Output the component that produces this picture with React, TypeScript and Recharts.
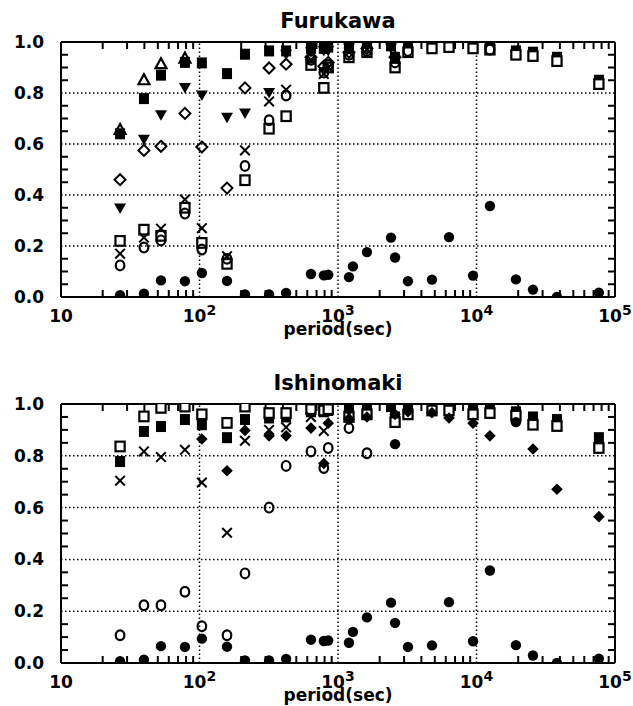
import { ScatterChart, Scatter, XAxis, YAxis, ReferenceLine } from 'recharts'

// periods (sec) at which the ratios were evaluated
const PERIODS = [
  26.7, 39.7, 52.7, 78.5, 104, 158, 213, 318, 422, 638, 790, 850, 1200,
  1282, 1618, 2414, 2582, 3200, 4770, 6330, 9440, 12500, 19260, 25570, 38100, 76500,
]

// shared by both stations
const FILLED_CIRCLE = [
  0.007, 0.013, 0.065, 0.062, 0.094, 0.063, 0.01, 0.01, 0.016, 0.09, 0.085, 0.087, 0.078,
  0.12, 0.176, 0.233, 0.155, 0.062, 0.068, 0.235, 0.084, 0.357, 0.069, 0.029, 0.0, 0.017,
]

// Furukawa
const F_FILLED_SQUARE = [
  0.64, 0.778, 0.87, 0.92, 0.918, 0.876, 0.952, 0.965, 0.965, 0.975, 0.975, 0.98, 0.99,
  null, 0.99, 0.985, 0.94, 0.985, 0.985, 0.985, 0.98, 0.98, 0.965, 0.96, 0.94, 0.85,
]
const F_OPEN_SQUARE = [
  0.22, 0.264, 0.24, 0.35, 0.212, 0.13, 0.458, 0.66, 0.709, 0.91, 0.82, 0.9, 0.94,
  null, 0.96, null, 0.9, 0.96, 0.975, 0.98, 0.975, 0.97, 0.95, 0.945, 0.925, 0.835,
]
const F_OPEN_CIRCLE = [
  0.124, 0.194, 0.222, 0.327, 0.186, 0.15, 0.514, 0.693, 0.79, 0.93, 0.88, 0.91, 0.95,
  null, 0.965, null, 0.92, 0.965, null, null, null, 0.97, null, null, null, null,
]
const F_CROSS = [
  0.17, 0.233, 0.268, 0.382, 0.27, 0.16, 0.575, 0.767, 0.813, 0.93, 0.875, 0.9, 0.96,
  null, 0.97, null, 0.93, null, null, null, null, null, null, null, null, null,
]
const F_TRIANGLE_DOWN = [
  0.347, 0.617, 0.713, 0.82, 0.79, 0.703, 0.72, 0.8, 0.95, 0.96, 0.965, 0.965, 0.975,
  null, 0.98, 0.975, null, null, null, null, null, null, null, null, null, null,
]
const F_TRIANGLE_UP = [
  0.655, 0.85, 0.913, 0.935, null, null, null, null, null, null, null, null, null,
  null, null, null, null, null, null, null, null, null, null, null, null, null,
]
const F_OPEN_DIAMOND = [
  0.46, 0.575, 0.591, 0.72, 0.588, 0.427, 0.82, 0.898, 0.913, 0.94, 0.905, 0.92, 0.96,
  null, 0.975, null, 0.94, null, null, null, null, null, null, null, null, null,
]

// Ishinomaki
const I_FILLED_SQUARE = [
  0.778, 0.894, 0.913, 0.94, 0.92, 0.87, 0.94, 0.946, 0.95, 0.97, 0.97, 0.975, 0.98,
  null, 0.985, 0.99, 0.95, 0.98, 0.985, 0.985, 0.975, 0.98, 0.97, 0.95, 0.94, 0.87,
]
const I_OPEN_SQUARE = [
  0.836, 0.952, 0.985, 0.99, 0.96, 0.927, 0.99, 0.965, 0.965, 0.98, 0.975, 0.98, 0.95,
  null, 0.96, null, 0.93, 0.96, 0.975, 0.975, 0.96, 0.965, 0.955, 0.92, 0.915, 0.83,
]
const I_OPEN_CIRCLE = [
  0.107, 0.223, 0.223, 0.275, 0.142, 0.107, 0.346, 0.6, 0.761, 0.817, 0.753, 0.83, 0.907,
  null, 0.81, null, null, null, null, null, null, null, null, null, null, null,
]
const I_CROSS = [
  0.704, 0.817, 0.795, 0.823, 0.697, 0.503, 0.858, 0.9, 0.91, 0.95, 0.896, null, 0.96,
  null, null, null, null, null, null, null, null, null, null, null, null, null,
]
const I_FILLED_DIAMOND = [
  null, null, null, null, 0.865, 0.742, 0.898, 0.877, 0.877, 0.907, 0.77, 0.926, 0.94,
  null, 0.95, null, 0.96, 0.97, 0.966, 0.946, 0.926, 0.877, null, 0.826, 0.671, 0.565,
]
const I_FILLED_CIRCLE_UPPER = [
  null, null, null, null, null, null, null, null, null, null, null, null, null,
  null, null, null, 0.845, null, null, null, null, null, 0.93, null, null, null,
]

const X_MAJOR = [10, 100, 1000, 10000, 100000]
const X_MINOR = [
  20, 30, 40, 50, 60, 70, 80, 90,
  200, 300, 400, 500, 600, 700, 800, 900,
  2000, 3000, 4000, 5000, 6000, 7000, 8000, 9000,
  20000, 30000, 40000, 50000, 60000, 70000, 80000, 90000,
]
const Y_MAJOR = [0, 0.2, 0.4, 0.6, 0.8, 1.0]
const Y_MINOR = [0.05, 0.1, 0.15, 0.25, 0.3, 0.35, 0.45, 0.5, 0.55, 0.65, 0.7, 0.75, 0.85, 0.9, 0.95]

type Kind = 'dot' | 'ring' | 'box' | 'block' | 'tri' | 'invtri' | 'diamond' | 'solidDiamond' | 'cross'

interface SeriesDef {
  kind: Kind
  values: (number | null)[]
}

// draw order: first entries end up underneath
const FURUKAWA: SeriesDef[] = [
  { kind: 'block', values: F_FILLED_SQUARE },
  { kind: 'box', values: F_OPEN_SQUARE },
  { kind: 'ring', values: F_OPEN_CIRCLE },
  { kind: 'diamond', values: F_OPEN_DIAMOND },
  { kind: 'tri', values: F_TRIANGLE_UP },
  { kind: 'cross', values: F_CROSS },
  { kind: 'invtri', values: F_TRIANGLE_DOWN },
  { kind: 'dot', values: FILLED_CIRCLE },
]

const ISHINOMAKI: SeriesDef[] = [
  { kind: 'block', values: I_FILLED_SQUARE },
  { kind: 'box', values: I_OPEN_SQUARE },
  { kind: 'ring', values: I_OPEN_CIRCLE },
  { kind: 'cross', values: I_CROSS },
  { kind: 'solidDiamond', values: I_FILLED_DIAMOND },
  { kind: 'dot', values: I_FILLED_CIRCLE_UPPER },
  { kind: 'dot', values: FILLED_CIRCLE },
]

const INK = '#000'

function Marker({ kind, cx, cy }: { kind: Kind; cx: number; cy: number }) {
  switch (kind) {
    case 'dot':
      return <circle cx={cx} cy={cy} r={5.2} fill={INK} />
    case 'ring':
      return <ellipse cx={cx} cy={cy} rx={4.3} ry={4.9} fill="none" stroke={INK} strokeWidth={2.2} />
    case 'box':
      return <rect x={cx - 4.6} y={cy - 4.8} width={9.2} height={9.6} fill="#fff" stroke={INK} strokeWidth={2.2} />
    case 'block':
      return <rect x={cx - 5} y={cy - 5.5} width={10} height={11} fill={INK} />
    case 'tri':
      return (
        <polygon
          points={`${cx},${cy - 6} ${cx - 5.5},${cy + 4} ${cx + 5.5},${cy + 4}`}
          fill="none" stroke={INK} strokeWidth={2.2} strokeLinejoin="miter"
        />
      )
    case 'invtri':
      return <polygon points={`${cx - 6},${cy - 5} ${cx + 6},${cy - 5} ${cx},${cy + 5.5}`} fill={INK} />
    case 'diamond':
      return (
        <polygon
          points={`${cx},${cy - 5.5} ${cx + 5.5},${cy} ${cx},${cy + 5.5} ${cx - 5.5},${cy}`}
          fill="none" stroke={INK} strokeWidth={2}
        />
      )
    case 'solidDiamond':
      return <polygon points={`${cx},${cy - 5.8} ${cx + 5.8},${cy} ${cx},${cy + 5.8} ${cx - 5.8},${cy}`} fill={INK} />
    case 'cross':
      return (
        <g stroke={INK} strokeWidth={2}>
          <line x1={cx - 4.8} y1={cy - 4.8} x2={cx + 4.8} y2={cy + 4.8} />
          <line x1={cx - 4.8} y1={cy + 4.8} x2={cx + 4.8} y2={cy - 4.8} />
        </g>
      )
  }
  return null
}

// inward minor ticks, ~7px long: expressed in data units of each axis
const TICK_PX = 7
const DECADE_PX = 138.5
const X_TICK_FACTOR = Math.pow(10, TICK_PX / DECADE_PX)

// tickSize and tickMargin are 0, so x / y sit on the axis line itself
const BottomTick = ({ x, y, payload }: any) => {
  const exp = Math.round(Math.log10(payload.value))
  return (
    <text x={x} y={y + 25} textAnchor="middle" fontSize={17} fontWeight="bold" fill={INK}>
      10
      {exp > 1 && <tspan dy={-7} fontSize={14}>{exp}</tspan>}
    </text>
  )
}

const LeftTick = ({ x, y, payload }: any) => (
  <text x={x - 17} y={y} dy={6} textAnchor="end" fontSize={17} fontWeight="bold" fill={INK}>
    {payload.value.toFixed(1)}
  </text>
)

const frame = { stroke: INK, strokeWidth: 2 }
const dotted = { stroke: INK, strokeWidth: 1.5, strokeDasharray: '1.5 2.5' }
const tickStroke = { stroke: INK, strokeWidth: 2, ifOverflow: 'visible' as const }

function Panel({ title, series, top, plotHeight }: {
  title: string
  series: SeriesDef[]
  top: number
  plotHeight: number
}) {
  const height = 41 + 1 + plotHeight + 43
  const ty = TICK_PX / plotHeight
  return (
    <div style={{ position: 'absolute', left: 0, top }}>
      <ScatterChart width={633} height={height} margin={{ top: 41, right: 17, bottom: 0, left: 0 }}>
        {X_MAJOR.slice(1, -1).map((v) => (
          <ReferenceLine key={`gx${v}`} xAxisId="x" yAxisId="y" x={v} {...dotted} />
        ))}
        {Y_MAJOR.slice(1, -1).map((v) => (
          <ReferenceLine key={`gy${v}`} xAxisId="x" yAxisId="y" y={v} {...dotted} />
        ))}
        {X_MINOR.map((v) => (
          <ReferenceLine key={`tb${v}`} xAxisId="x" yAxisId="y" segment={[{ x: v, y: 0 }, { x: v, y: ty }]} {...tickStroke} />
        ))}
        {X_MINOR.map((v) => (
          <ReferenceLine key={`tt${v}`} xAxisId="x" yAxisId="y" segment={[{ x: v, y: 1 }, { x: v, y: 1 - ty }]} {...tickStroke} />
        ))}
        {Y_MINOR.map((v) => (
          <ReferenceLine key={`tl${v}`} xAxisId="x" yAxisId="y" segment={[{ x: 10, y: v }, { x: 10 * X_TICK_FACTOR, y: v }]} {...tickStroke} />
        ))}
        {Y_MINOR.map((v) => (
          <ReferenceLine key={`tr${v}`} xAxisId="x" yAxisId="y" segment={[{ x: 100000, y: v }, { x: 100000 / X_TICK_FACTOR, y: v }]} {...tickStroke} />
        ))}
        <XAxis
          xAxisId="x" dataKey="period" type="number" scale="log" domain={[10, 100000]}
          allowDataOverflow ticks={X_MAJOR} interval={0} tickSize={0} tickMargin={0}
          tickLine={false} axisLine={frame} tick={BottomTick} height={43}
          label={{ value: 'period(sec)', position: 'insideBottom', offset: 5, fontSize: 17, fontWeight: 'bold', fill: INK }}
        />
        <XAxis
          xAxisId="top" orientation="top" type="number" domain={[0, 1]} allowDataOverflow
          ticks={[]} tick={false} tickLine={false} axisLine={frame} height={1}
          label={{ value: title, position: 'top', offset: 13, fontSize: 21, fontWeight: 'bold', fill: INK }}
        />
        <YAxis
          yAxisId="y" dataKey="value" type="number" domain={[0, 1]} allowDataOverflow
          ticks={Y_MAJOR} interval={0} tickSize={0} tickMargin={0}
          tickLine={false} axisLine={frame} tick={LeftTick} width={61}
        />
        <YAxis
          yAxisId="right" orientation="right" type="number" domain={[0, 1]} allowDataOverflow
          ticks={[]} tick={false} tickLine={false} axisLine={frame} width={1}
        />
        {series.map((s, i) => (
          <Scatter
            key={i}
            xAxisId="x"
            yAxisId="y"
            data={PERIODS.map((period, j) => ({ period, value: s.values[j] })).filter((d) => d.value != null)}
            shape={(p: any) => <Marker kind={s.kind} cx={p.cx} cy={p.cy} />}
            isAnimationActive={false}
          />
        ))}
      </ScatterChart>
    </div>
  )
}

export default function App() {
  return (
    <div
      style={{
        position: 'absolute', left: 0, top: 0, width: 633, height: 706,
        background: '#fff', fontFamily: '"DejaVu Sans", sans-serif', overflow: 'hidden',
      }}
    >
      <Panel title="Furukawa" series={FURUKAWA} top={0} plotHeight={255} />
      <Panel title="Ishinomaki" series={ISHINOMAKI} top={362} plotHeight={259} />
    </div>
  )
}
